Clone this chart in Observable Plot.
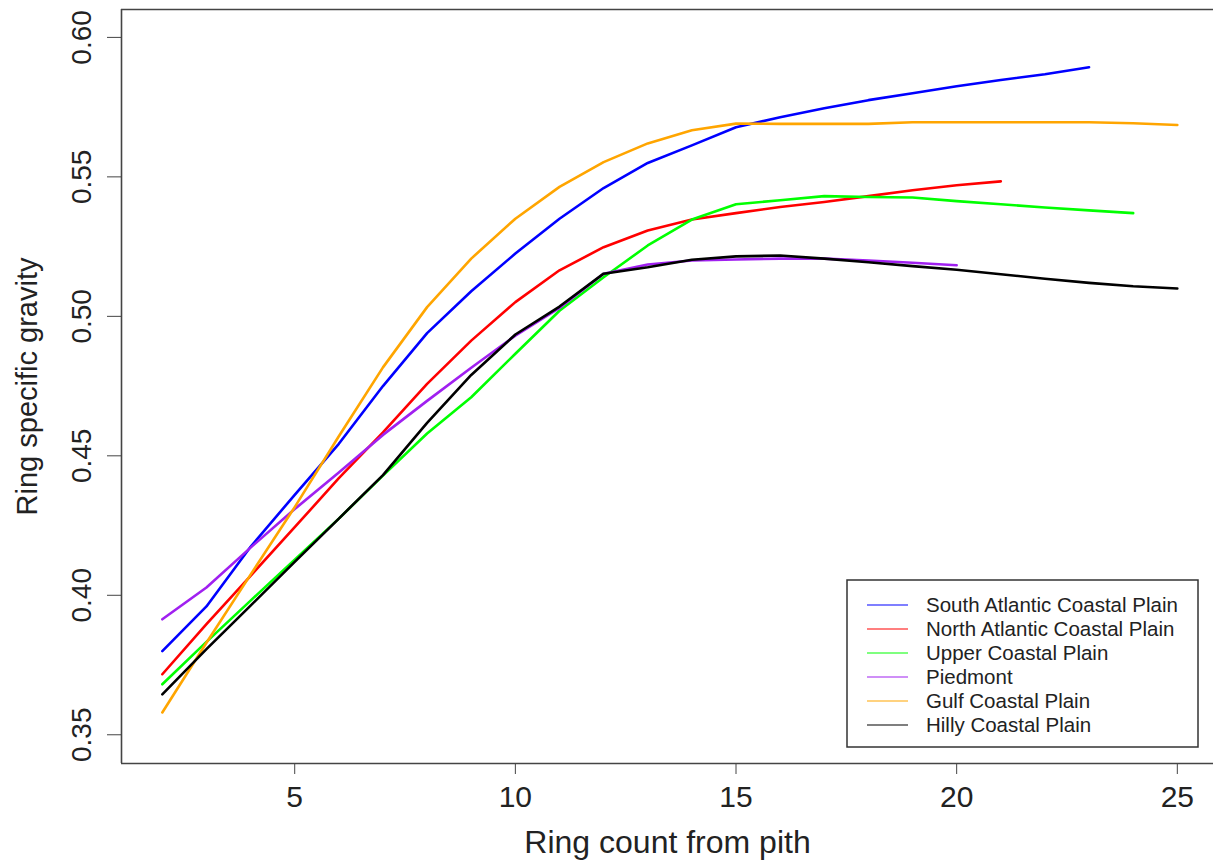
<!DOCTYPE html>
<html>
<head>
<meta charset="utf-8">
<script src="https://cdn.jsdelivr.net/npm/d3@7"></script>
<script src="https://cdn.jsdelivr.net/npm/@observablehq/plot@0.6"></script>
<style>
  html, body { margin: 0; padding: 0; background: #fff; }
  #chart { width: 1213px; height: 861px; overflow: hidden; }
</style>
</head>
<body>
<div id="chart"></div>
<script>
// ---- data ----
const seriesNames = [
  "South Atlantic Coastal Plain",
  "North Atlantic Coastal Plain",
  "Upper Coastal Plain",
  "Piedmont",
  "Gulf Coastal Plain",
  "Hilly Coastal Plain"
];
const seriesColors = ["#0000FF", "#FF0000", "#00FF00", "#A020F0", "#FFA500", "#000000"];

const ringCount = [2, 3, 4, 5, 6, 7, 8, 9, 10, 11, 12, 13, 14, 15, 16, 17, 18, 19, 20, 21, 22, 23, 24, 25];

const southAtlantic = [0.380, 0.396, 0.4174, 0.436, 0.4543, 0.475, 0.494, 0.509, 0.5225, 0.535, 0.546, 0.555, 0.5613, 0.5678, 0.5714, 0.5746, 0.5775, 0.580, 0.5825, 0.5847, 0.5868, 0.5893];
const northAtlantic = [0.3717, 0.3897, 0.407, 0.4244, 0.442, 0.4584, 0.4758, 0.4913, 0.5051, 0.5165, 0.5248, 0.5308, 0.5347, 0.537, 0.5392, 0.541, 0.5431, 0.5452, 0.547, 0.5484];
const upperCoastal = [0.3681, 0.3833, 0.3981, 0.4128, 0.4275, 0.4429, 0.458, 0.471, 0.4866, 0.502, 0.514, 0.5254, 0.5347, 0.5402, 0.5416, 0.5431, 0.5428, 0.5426, 0.5413, 0.5402, 0.539, 0.538, 0.537];
const piedmont = [0.3914, 0.4028, 0.4171, 0.4309, 0.444, 0.4575, 0.4697, 0.4816, 0.4931, 0.503, 0.5153, 0.5186, 0.520, 0.5204, 0.5207, 0.5207, 0.520, 0.5192, 0.5183];
const gulfCoastal = [0.358, 0.383, 0.4074, 0.4316, 0.457, 0.4817, 0.5033, 0.5207, 0.535, 0.5464, 0.5553, 0.562, 0.5667, 0.5691, 0.569, 0.569, 0.569, 0.5696, 0.5696, 0.5696, 0.5696, 0.5696, 0.5692, 0.5686];
const hillyCoastal = [0.3645, 0.3807, 0.3963, 0.412, 0.4275, 0.4431, 0.4618, 0.479, 0.4935, 0.5035, 0.5153, 0.5176, 0.5203, 0.5215, 0.5218, 0.5207, 0.5194, 0.518, 0.5167, 0.5151, 0.5135, 0.512, 0.5108, 0.510];

const xTicks = [5, 10, 15, 20, 25];
const yTicks = [0.35, 0.40, 0.45, 0.50, 0.55, 0.60];
const xTitle = "Ring count from pith";
const yTitle = "Ring specific gravity";

// ---- table built from the arrays ----
const seriesValues = [southAtlantic, northAtlantic, upperCoastal, piedmont, gulfCoastal, hillyCoastal];
const rows = [];
seriesValues.forEach((vals, i) => {
  vals.forEach((v, j) => rows.push({series: seriesNames[i], ring: ringCount[j], sg: v}));
});

const xDomain = [1.075, 25.82];
const yDomain = [0.3397, 0.6100];
const font = "'Liberation Sans', Arial, Helvetica, sans-serif";

const chart = Plot.plot({
  width: 1213,
  height: 861,
  marginLeft: 121,
  marginRight: 0,
  marginTop: 9,
  marginBottom: 98,
  x: {domain: xDomain, label: null},
  y: {domain: yDomain, label: null},
  color: {domain: seriesNames, range: seriesColors},
  style: {fontFamily: font, background: "#fff", color: "#222", overflow: "visible"},
  marks: [
    Plot.axisX({ticks: xTicks, tickSize: 11, tickPadding: 11, fontSize: 30, label: null, stroke: "#444", fill: "#222"}),
    Plot.axisY({ticks: yTicks, tickSize: 14, tickFormat: () => "", label: null, stroke: "#444"}),
    Plot.text(yTicks, {y: d => d, frameAnchor: "left", dx: -31, rotate: -90, text: d => d.toFixed(2), fontSize: 28, lineAnchor: "bottom", textAnchor: "middle", fill: "#222"}),
    Plot.text([yTitle], {frameAnchor: "left", dx: -85, rotate: -90, text: d => d, fontSize: 29, lineAnchor: "bottom", textAnchor: "middle", fill: "#222"}),
    Plot.text([xTitle], {frameAnchor: "bottom", dy: 89, text: d => d, fontSize: 32, lineAnchor: "bottom", textAnchor: "middle", fill: "#222"}),
    Plot.line(rows, {x: "ring", y: "sg", z: "series", stroke: "series", strokeWidth: 2.6, strokeLinejoin: "round"}),
    Plot.ruleX([xDomain[0]], {stroke: "#444", strokeWidth: 1.6}),
    Plot.ruleY([yDomain[0], yDomain[1]], {stroke: "#444", strokeWidth: 1.6})
  ]
});

document.getElementById("chart").appendChild(chart);

// ---- legend box inside the plot area (bottom right) ----
const svg = d3.select(chart);
const lg = svg.append("g").attr("font-family", font).attr("font-size", 20.5).attr("text-anchor", "start");
lg.append("rect")
  .attr("x", 847).attr("y", 580).attr("width", 351).attr("height", 167)
  .attr("fill", "#fff").attr("stroke", "#333").attr("stroke-width", 1.5);
seriesNames.forEach((name, i) => {
  const yy = 605 + i * 24;
  lg.append("line").attr("x1", 867).attr("x2", 908).attr("y1", yy).attr("y2", yy)
    .attr("stroke", seriesColors[i]).attr("stroke-width", 1.2);
  lg.append("text").attr("x", 926).attr("y", yy).attr("dy", "0.36em")
    .attr("text-anchor", "start").attr("fill", "#222").text(name);
});
</script>
</body>
</html>
